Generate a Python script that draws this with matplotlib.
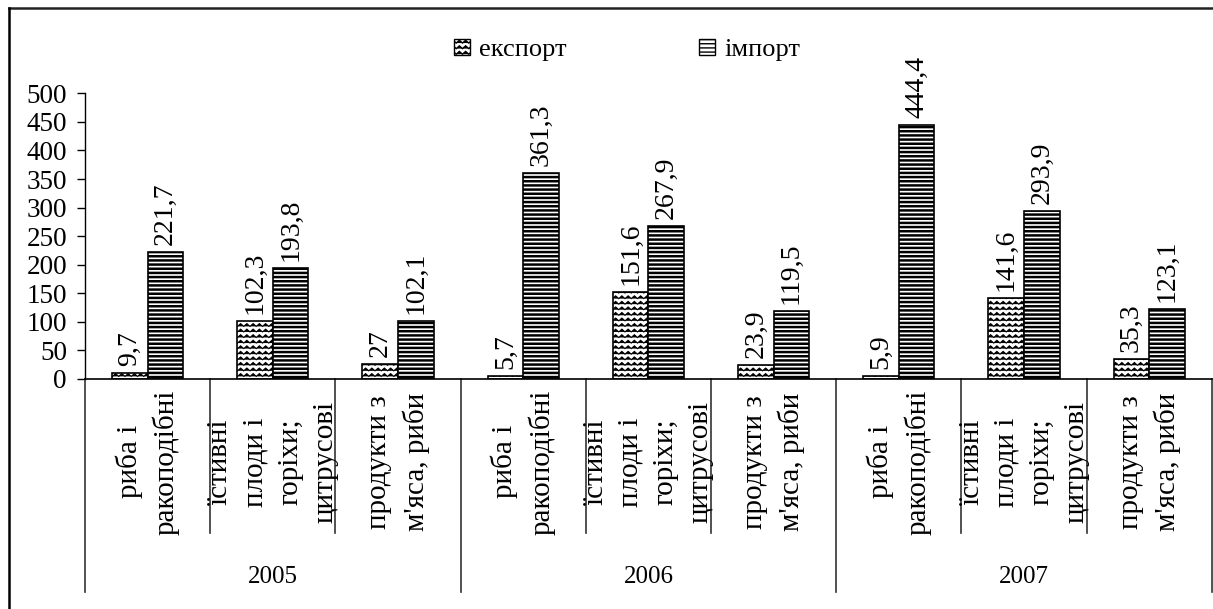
import warnings
import numpy as np
import matplotlib
matplotlib.use("Agg")
import matplotlib.pyplot as plt
from matplotlib import hatch as mhatch
from matplotlib.path import Path
from matplotlib.patches import Patch
from matplotlib.lines import Line2D
import matplotlib.transforms as mtransforms

warnings.filterwarnings("ignore")

# --- data ---
YEARS = ["2005", "2006", "2007"]
CATEGORIES = ["риба і\nракоподібні",
              "їстивні\nплоди і\nгоріхи;\nцитрусові",
              "продукти з\nм'яса, риби"]
EXPORT = [9.7, 102.3, 27, 5.7, 151.6, 23.9, 5.9, 141.6, 35.3]
IMPORT = [221.7, 193.8, 102.1, 361.3, 267.9, 119.5, 444.4, 293.9, 123.1]
SERIES = ["експорт", "імпорт"]
YTICKS = list(range(0, 501, 50))


# zigzag hatch ('z') to mimic the wavy export fill
class ZigZagHatch(mhatch.HatchPatternBase):
    def __init__(self, hatch, density):
        self.num_rows = int(hatch.count('z') * density)
        self.num_teeth = 16
        self.num_vertices = self.num_rows * (2 * self.num_teeth + 1)

    def set_vertices_and_codes(self, vertices, codes):
        n = 2 * self.num_teeth + 1
        xs = np.linspace(0, 1, n)
        amp = 0.5 / self.num_rows
        for i in range(self.num_rows):
            y0 = (i + 0.25) / self.num_rows
            vertices[i * n:(i + 1) * n, 0] = xs
            vertices[i * n:(i + 1) * n, 1] = y0 + amp * (np.arange(n) % 2)
            codes[i * n] = Path.MOVETO
            codes[i * n + 1:(i + 1) * n] = Path.LINETO


mhatch._hatch_types.append(ZigZagHatch)

plt.rcParams["font.family"] = ["Liberation Serif", "DejaVu Serif"]
plt.rcParams["font.size"] = 20

fig = plt.figure(figsize=(12.13, 6.09), dpi=100)
ax = fig.add_axes([0.0701, 0.3777, 0.9289, 0.4691])

labels = [CATEGORIES[i % 3] for i in range(len(EXPORT))]
x = np.arange(len(labels))
w = 0.284

with plt.rc_context({"hatch.linewidth": 0.8}):
    b1 = ax.bar(x - w / 2, EXPORT, w, facecolor="white", edgecolor="black",
                linewidth=1.2, hatch="zzz", label=SERIES[0])
with plt.rc_context({"hatch.linewidth": 1.8}):
    b2 = ax.bar(x + w / 2, IMPORT, w, facecolor="white", edgecolor="black",
                linewidth=1.2, hatch="----", label=SERIES[1])

for bars, vals in [(b1, EXPORT), (b2, IMPORT)]:
    for r, v in zip(bars, vals):
        txt = f"{v:g}".replace(".", ",")
        ax.annotate(txt, (r.get_x() + r.get_width() / 2, r.get_height()),
                    xytext=(0, 5), textcoords="offset points",
                    rotation=90, ha="center", va="bottom", fontsize=20)

ax.set_xlim(-0.5, len(labels) - 0.5)
ax.set_ylim(0, 500)
ax.set_yticks(YTICKS)
ax.tick_params(axis="y", length=6, width=1, pad=7, labelsize=19.5)
ax.set_xticks([])
for s in ["top", "right"]:
    ax.spines[s].set_visible(False)
ax.spines["left"].set_linewidth(1)
ax.spines["bottom"].set_linewidth(1.2)

# category separators and labels under the axis
trans = mtransforms.blended_transform_factory(ax.transData, ax.transAxes)
for k in range(len(labels) + 1):
    bottom = -0.746 if k % 3 == 0 else -0.539
    ax.add_line(Line2D([k - 0.5, k - 0.5], [0, bottom], transform=trans,
                       color="#333333", lw=1.2, clip_on=False))
for i, lab in enumerate(labels):
    ax.text(i, -0.29, lab, transform=trans, rotation=90, ha="center",
            va="center", multialignment="center", fontsize=21,
            linespacing=1.45)
for g, yr in enumerate(YEARS):
    ax.text(3 * g + 1, -0.693, yr, transform=trans, ha="center",
            va="center", fontsize=18)

handles = [Patch(facecolor="white", edgecolor="black", hatch="zzz"),
           Patch(facecolor="white", edgecolor="black", hatch="----")]
fig.legend(handles, SERIES, loc="center", bbox_to_anchor=(0.517, 0.918),
           ncol=2, frameon=False, fontsize=19, handlelength=0.6,
           handleheight=0.6, handletextpad=0.35, columnspacing=5.0)

# outer frame (top and left edges visible)
fig.add_artist(Line2D([0.0074, 1.0], [0.9869, 0.9869], color="#222222", lw=1.8))
fig.add_artist(Line2D([0.0074, 0.0074], [0.0, 0.9869], color="black", lw=1.8))

fig.savefig("out.png", dpi=100)
